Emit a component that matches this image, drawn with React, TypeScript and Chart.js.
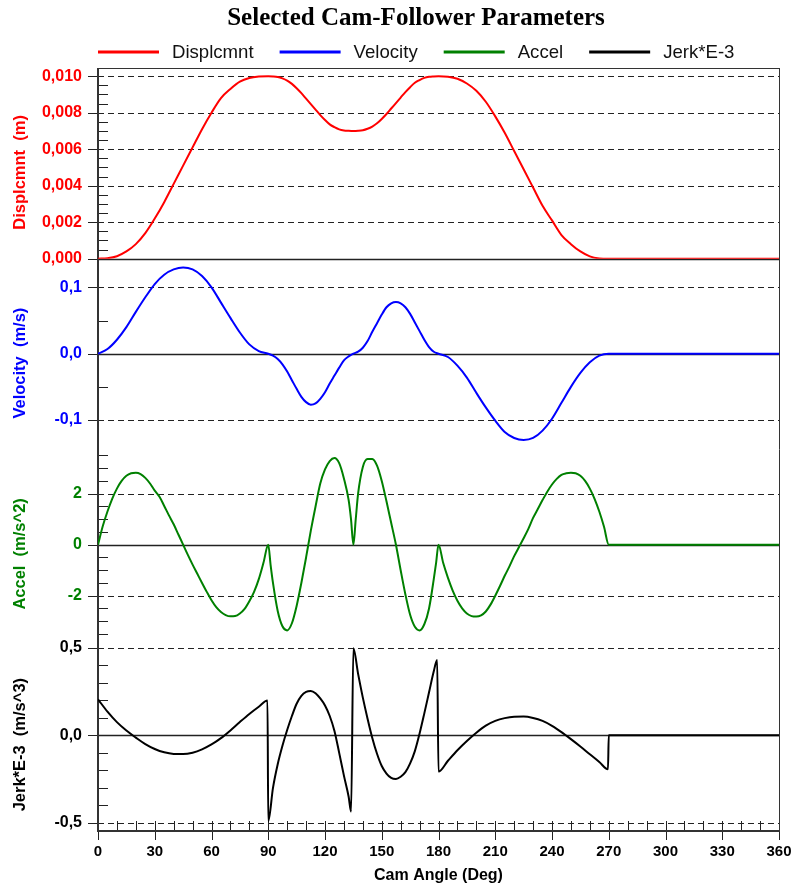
import React, { useEffect, useRef } from 'react';
import { Chart, registerables } from 'chart.js';

Chart.register(...registerables);

// ---------- data ----------
const xTickValues = [0, 30, 60, 90, 120, 150, 180, 210, 240, 270, 300, 330, 360];

const dispAngles = [
  0, 5, 10, 15, 20, 25, 30, 35, 40, 45, 50, 55, 60, 65, 70, 75, 80, 85, 90,
  92.5, 95, 97.5, 100, 102.5, 105, 107.5, 110, 112.5, 115, 117.5, 120, 122.5, 125, 127.5, 130, 132.5, 135,
  137.5, 140, 142.5, 145, 147.5, 150, 152.5, 155, 157.5, 160, 162.5, 165, 167.5, 170, 172.5, 175, 177.5, 180,
  185, 190, 195, 200, 205, 210, 215, 220, 225, 230, 235, 240, 245, 250, 255, 260, 265, 270,
  300, 330, 360,
];
const dispValues = [
  0, 0.00003, 0.00014, 0.0004, 0.0008, 0.0014, 0.0022, 0.0031, 0.0041, 0.0051, 0.0061, 0.0071, 0.008, 0.0088, 0.0093, 0.0097, 0.0099, 0.00998, 0.01,
  0.00999, 0.00996, 0.00988, 0.00976, 0.00958, 0.00934, 0.00907, 0.00877, 0.00847, 0.00817, 0.00787, 0.0076, 0.00736, 0.00721, 0.00709, 0.00703, 0.00701, 0.007,
  0.00701, 0.00704, 0.00712, 0.00724, 0.00742, 0.00766, 0.00793, 0.00823, 0.00853, 0.00883, 0.00913, 0.0094, 0.00964, 0.00979, 0.00991, 0.00997, 0.00999, 0.01,
  0.00997, 0.00986, 0.0096, 0.0092, 0.0086, 0.0078, 0.0069, 0.0059, 0.0049, 0.0039, 0.0029, 0.0021, 0.0013, 0.0008, 0.0004, 0.00013, 0.00002, 0,
  0, 0, 0,
];

const velAngles = dispAngles;
const velValues = [
  0, 0.007, 0.021, 0.04, 0.063, 0.085, 0.105, 0.119, 0.127, 0.13, 0.127, 0.117, 0.1, 0.077, 0.054, 0.032, 0.014, 0.004, 0,
  -0.003, -0.008, -0.016, -0.027, -0.04, -0.053, -0.065, -0.073, -0.077, -0.075, -0.068, -0.058, -0.045, -0.033, -0.021, -0.01, -0.004, 0,
  0.003, 0.009, 0.019, 0.033, 0.046, 0.059, 0.07, 0.076, 0.078, 0.076, 0.07, 0.06, 0.047, 0.034, 0.021, 0.01, 0.003, 0,
  -0.005, -0.018, -0.036, -0.059, -0.081, -0.101, -0.118, -0.127, -0.13, -0.127, -0.116, -0.098, -0.074, -0.05, -0.029, -0.013, -0.003, 0,
  0, 0, 0,
];

const accAngles = [
  0, 2.5, 5, 7.5, 10, 12.5, 15, 17.5, 20, 22.5, 25, 27.5, 30, 32.5, 35, 37.5, 40, 42.5, 45, 47.5, 50, 52.5, 55, 57.5, 60, 62.5, 65, 67.5, 70, 72.5, 75, 77.5, 80, 82.5, 85, 87.5, 90,
  91.25, 92.5, 95, 97.5, 100, 102.5, 105, 107.5, 110, 112.5, 115, 117.5, 120, 122.5, 125, 127.5, 130, 132.5, 133.75, 135,
  136.25, 137.5, 140, 142.5, 145, 147.5, 150, 152.5, 155, 157.5, 160, 162.5, 165, 167.5, 170, 172.5, 175, 177.5, 178.75, 180,
  182.5, 185, 187.5, 190, 192.5, 195, 197.5, 200, 202.5, 205, 207.5, 210, 212.5, 215, 217.5, 220, 222.5, 225, 227.5, 230, 232.5, 235, 237.5, 240, 242.5, 245, 247.5, 250, 252.5, 255, 257.5, 260, 262.5, 265, 267.5, 270,
  300, 330, 360,
];
const accValues = [
  0, 0.72, 1.3, 1.8, 2.2, 2.5, 2.7, 2.8, 2.82, 2.77, 2.62, 2.4, 2.12, 1.88, 1.52, 1.15, 0.8, 0.4, 0, -0.4, -0.78, -1.14, -1.5, -1.85, -2.18, -2.45, -2.64, -2.76, -2.81, -2.8, -2.7, -2.52, -2.22, -1.85, -1.35, -0.7, 0,
  -0.8, -1.5, -2.6, -3.2, -3.36, -3.08, -2.4, -1.5, -0.5, 0.55, 1.5, 2.4, 2.95, 3.28, 3.4, 3.2, 2.6, 1.75, 1.0, 0,
  1.0, 2.0, 3.05, 3.36, 3.36, 3.1, 2.5, 1.7, 0.85, 0, -1.0, -1.95, -2.75, -3.22, -3.36, -3.12, -2.5, -1.35, -0.7, 0,
  -0.72, -1.3, -1.8, -2.2, -2.5, -2.7, -2.8, -2.82, -2.77, -2.62, -2.35, -2.0, -1.62, -1.22, -0.85, -0.45, -0.1, 0.25, 0.62, 1.05, 1.4, 1.75, 2.08, 2.36, 2.58, 2.74, 2.8, 2.82, 2.8, 2.7, 2.5, 2.2, 1.8, 1.3, 0.7, 0,
  0, 0, 0,
];

const jerkAngles = [
  0, 5, 10, 15, 20, 25, 30, 35, 40, 45, 50, 55, 60, 65, 70, 75, 80, 85, 89.6,
  90, 92.5, 95, 97.5, 100, 102.5, 105, 107.5, 110, 112.5, 115, 117.5, 120, 122.5, 125, 127.5, 130, 132.5, 133.8,
  135, 137.5, 140, 142.5, 145, 147.5, 150, 152.5, 155, 157.5, 160, 162.5, 165, 167.5, 170, 172.5, 175, 177.5, 179.3,
  180, 185, 190, 195, 200, 205, 210, 215, 220, 225, 230, 235, 240, 245, 250, 255, 260, 265, 269.6,
  270, 300, 330, 360,
];
const jerkValues = [
  0.205, 0.135, 0.075, 0.027, -0.013, -0.05, -0.078, -0.097, -0.106, -0.107, -0.099, -0.08, -0.052, -0.016, 0.028, 0.076, 0.122, 0.163, 0.198,
  -0.49, -0.3, -0.165, -0.06, 0.03, 0.11, 0.18, 0.225, 0.248, 0.253, 0.24, 0.21, 0.17, 0.11, 0.025, -0.1, -0.23, -0.35, -0.435,
  0.496, 0.35, 0.215, 0.095, -0.015, -0.105, -0.175, -0.218, -0.243, -0.249, -0.236, -0.21, -0.16, -0.09, 0.01, 0.125, 0.245, 0.365, 0.43,
  -0.207, -0.145, -0.085, -0.032, 0.015, 0.055, 0.082, 0.098, 0.106, 0.107, 0.099, 0.082, 0.054, 0.018, -0.022, -0.064, -0.108, -0.152, -0.194,
  0, 0, 0, 0,
];

const dispTicks = [0, 0.002, 0.004, 0.006, 0.008, 0.01];
const dispTickLabels = ['0,000', '0,002', '0,004', '0,006', '0,008', '0,010'];
const velTicks = [-0.1, 0, 0.1];
const velTickLabels = ['-0,1', '0,0', '0,1'];
const accTicks = [-2, 0, 2];
const accTickLabels = ['-2', '0', '2'];
const jerkTicks = [-0.5, 0, 0.5];
const jerkTickLabels = ['-0,5', '0,0', '0,5'];

const seriesNames = ['Displcmnt', 'Velocity', 'Accel', 'Jerk*E-3'];
const axisTitles = ['Displcmnt  (m)', 'Velocity  (m/s)', 'Accel  (m/s^2)', 'Jerk*E-3  (m/s^3)'];
const chartTitle = 'Selected Cam-Follower Parameters';
const xAxisTitle = 'Cam Angle (Deg)';

// ---------- styling ----------
const SANS = "'Liberation Sans', Arial, Helvetica, sans-serif";
const SERIF = "'Liberation Serif', 'Times New Roman', serif";
const COLORS = ['#ff0000', '#0000ff', '#008000', '#000000'];

export default function App() {
  const ref = useRef<HTMLCanvasElement>(null);

  useEffect(() => {
    const canvas = ref.current;
    if (!canvas) return;

    const pair = (xs: number[], ys: number[]) => xs.map((x, i) => ({ x, y: ys[i] }));

    const panels = [
      { id: 'yD', min: 0, max: 0.01045, ticks: dispTicks, labels: dispTickLabels, minor: 0.0005, weight: 4 },
      { id: 'yV', min: -0.1444, max: 0.1431, ticks: velTicks, labels: velTickLabels, minor: 0.05, weight: 3 },
      { id: 'yA', min: -3.747, max: 3.733, ticks: accTicks, labels: accTickLabels, minor: 0.5, weight: 2 },
      { id: 'yJ', min: -0.5456, max: 0.542, ticks: jerkTicks, labels: jerkTickLabels, minor: 0.1, weight: 1 },
    ];

    const scales: any = {
      x: {
        type: 'linear',
        position: 'bottom',
        min: 0,
        max: 360,
        afterBuildTicks: (s: any) => {
          s.ticks = xTickValues.map((v) => ({ value: v }));
        },
        afterFit: (s: any) => {
          s.height = 55;
          s.paddingLeft = 0;
          s.paddingRight = 0;
        },
        grid: { display: false, drawTicks: false },
        border: { display: false },
        ticks: {
          color: '#000',
          font: { family: SANS, size: 15, weight: 'bold' },
          padding: 12,
          maxRotation: 0,
          autoSkip: false,
          callback: (v: any) => String(v),
        },
      },
    };

    panels.forEach((p, idx) => {
      scales[p.id] = {
        type: 'linear',
        position: 'left',
        stack: 'panels',
        stackWeight: 1,
        weight: p.weight,
        min: p.min,
        max: p.max,
        afterBuildTicks: (s: any) => {
          s.ticks = p.ticks.map((v) => ({ value: v }));
        },
        afterFit: (s: any) => {
          s.width = 98;
          s.paddingTop = 0;
          s.paddingBottom = 0;
        },
        grid: { display: false, drawTicks: false },
        border: { display: false },
        ticks: {
          color: COLORS[idx],
          font: { family: SANS, size: 16, weight: 'bold' },
          padding: 16,
          autoSkip: false,
          callback: (_v: any, i: number) => p.labels[i],
        },
      };
    });

    const gridPlugin = {
      id: 'camGrid',
      beforeDatasetsDraw(chart: any) {
        const ctx = chart.ctx;
        const a = chart.chartArea;
        ctx.save();
        ctx.strokeStyle = '#222';
        ctx.lineWidth = 1;
        panels.forEach((p) => {
          const s = chart.scales[p.id];
          p.ticks.forEach((v) => {
            const y = Math.round(s.getPixelForValue(v)) + 0.5;
            ctx.beginPath();
            if (v === 0) {
              ctx.setLineDash([]);
              ctx.lineWidth = 1.5;
            } else {
              ctx.setLineDash([6, 4]);
              ctx.lineWidth = 1;
            }
            ctx.moveTo(a.left, y);
            ctx.lineTo(a.right, y);
            ctx.stroke();
            ctx.setLineDash([]);
            ctx.lineWidth = 1;
            ctx.beginPath();
            ctx.moveTo(a.left - 10, y);
            ctx.lineTo(a.left, y);
            ctx.stroke();
          });
          const kStart = Math.ceil(s.min / p.minor - 1e-6);
          const kEnd = Math.floor(s.max / p.minor + 1e-6);
          for (let k = kStart; k <= kEnd; k++) {
            const v = k * p.minor;
            if (p.ticks.some((t) => Math.abs(t - v) < p.minor * 1e-3)) continue;
            const y = Math.round(s.getPixelForValue(v)) + 0.5;
            if (y < s.top || y > s.bottom) continue;
            ctx.beginPath();
            ctx.moveTo(a.left, y);
            ctx.lineTo(a.left + 10, y);
            ctx.stroke();
          }
        });
        const xs = chart.scales.x;
        for (let v = 0; v <= 360; v += 10) {
          const x = Math.round(xs.getPixelForValue(v)) + 0.5;
          ctx.beginPath();
          ctx.moveTo(x, a.bottom);
          ctx.lineTo(x, a.bottom - 10);
          if (v % 30 === 0) {
            ctx.moveTo(x, a.bottom);
            ctx.lineTo(x, a.bottom + 9);
          }
          ctx.stroke();
        }
        ctx.strokeStyle = '#333';
        ctx.lineWidth = 1;
        ctx.beginPath();
        ctx.moveTo(a.left, a.top + 0.5);
        ctx.lineTo(a.right + 1, a.top + 0.5);
        ctx.moveTo(a.right + 0.5, a.top);
        ctx.lineTo(a.right + 0.5, a.bottom);
        ctx.stroke();
        ctx.lineWidth = 2;
        ctx.beginPath();
        ctx.moveTo(a.left, a.top);
        ctx.lineTo(a.left, a.bottom + 1);
        ctx.moveTo(a.left - 1, a.bottom);
        ctx.lineTo(a.right + 1, a.bottom);
        ctx.stroke();
        ctx.restore();
      },
      afterDraw(chart: any) {
        const ctx = chart.ctx;
        const a = chart.chartArea;
        ctx.save();
        ctx.fillStyle = '#000';
        ctx.font = `bold 25px ${SERIF}`;
        ctx.textAlign = 'center';
        ctx.textBaseline = 'alphabetic';
        ctx.fillText(chartTitle, 416, 25);
        ctx.font = `18.6px ${SANS}`;
        ctx.textAlign = 'left';
        let x = 98;
        seriesNames.forEach((name, i) => {
          ctx.strokeStyle = COLORS[i];
          ctx.lineWidth = 3;
          ctx.beginPath();
          ctx.moveTo(x, 52);
          ctx.lineTo(x + 61, 52);
          ctx.stroke();
          ctx.fillStyle = '#111';
          const tx = x + 61 + 13;
          ctx.fillText(name, tx, 58);
          x = tx + ctx.measureText(name).width + 26;
        });
        ctx.font = `bold 16.5px ${SANS}`;
        ctx.textAlign = 'center';
        ctx.textBaseline = 'middle';
        panels.forEach((p, i) => {
          const s = chart.scales[p.id];
          const cy = (s.top + s.bottom) / 2 + 9;
          ctx.save();
          ctx.translate(20, cy);
          ctx.rotate(-Math.PI / 2);
          ctx.fillStyle = COLORS[i];
          ctx.fillText(axisTitles[i], 0, 0);
          ctx.restore();
        });
        ctx.fillStyle = '#000';
        ctx.font = `bold 16px ${SANS}`;
        ctx.textBaseline = 'alphabetic';
        ctx.fillText(xAxisTitle, (a.left + a.right) / 2, 880);
        ctx.restore();
      },
    };

    const chart = new Chart(canvas, {
      type: 'line',
      data: {
        datasets: [
          { label: seriesNames[0], data: pair(dispAngles, dispValues), yAxisID: 'yD', borderColor: COLORS[0] },
          { label: seriesNames[1], data: pair(velAngles, velValues), yAxisID: 'yV', borderColor: COLORS[1] },
          { label: seriesNames[2], data: pair(accAngles, accValues), yAxisID: 'yA', borderColor: COLORS[2] },
          { label: seriesNames[3], data: pair(jerkAngles, jerkValues), yAxisID: 'yJ', borderColor: COLORS[3] },
        ].map((d) => ({
          ...d,
          xAxisID: 'x',
          borderWidth: 2,
          pointRadius: 0,
          fill: false,
          cubicInterpolationMode: 'monotone' as const,
        })),
      },
      options: {
        responsive: false,
        animation: false,
        devicePixelRatio: 1,
        events: [],
        layout: { padding: { top: 68, right: 12, left: 0, bottom: 0 } },
        plugins: {
          legend: { display: false },
          title: { display: false },
          tooltip: { enabled: false },
        },
        scales,
      } as any,
      plugins: [gridPlugin],
    });

    return () => chart.destroy();
  }, []);

  return (
    <div style={{ position: 'absolute', left: 0, top: 0, width: 791, height: 886, background: '#fff' }}>
      <canvas ref={ref} width={791} height={886} style={{ display: 'block' }} />
    </div>
  );
}
